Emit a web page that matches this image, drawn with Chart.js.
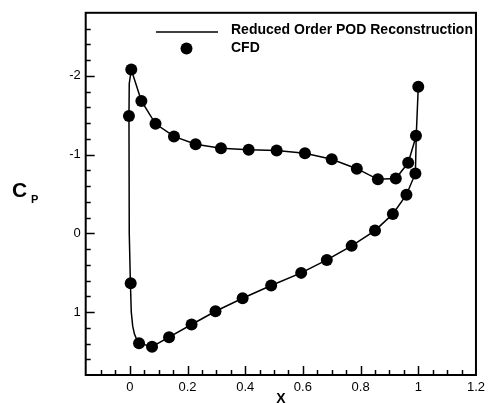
<!DOCTYPE html>
<html>
<head>
<meta charset="utf-8">
<script src="https://cdn.jsdelivr.net/npm/chart.js@4.4.0/dist/chart.umd.min.js"></script>
<style>
html,body{margin:0;padding:0;background:#fff;}
#wrap{width:490px;height:403px;}
</style>
</head>
<body>
<div id="wrap"><canvas id="c" width="490" height="403"></canvas></div>
<script>
// CFD points (upper surface then lower surface)
const cfdX = [0.005, 0.040, -0.003, 0.089, 0.153, 0.228, 0.316, 0.412, 0.509, 0.607, 0.700, 0.787, 0.860, 0.922, 0.965, 0.992, 1.000,
              0.990, 0.959, 0.912, 0.850, 0.769, 0.683, 0.594, 0.490, 0.391, 0.297, 0.214, 0.136, 0.077, 0.032, 0.003];
const cfdCp = [-2.08, -1.68, -1.49, -1.39, -1.23, -1.13, -1.08, -1.06, -1.05, -1.015, -0.94, -0.82, -0.685, -0.695, -0.895, -1.24, -1.86,
              -0.76, -0.49, -0.246, -0.034, 0.16, 0.338, 0.503, 0.664, 0.825, 0.99, 1.159, 1.32, 1.44, 1.396, 0.635];
// Reduced order POD reconstruction curve
const podX = [1.000, 0.993, 0.965, 0.922, 0.860, 0.787, 0.700, 0.607, 0.509, 0.412, 0.316, 0.228, 0.153, 0.089, 0.040, 0.005,
              -0.002, -0.003, -0.002, 0.002, 0.005, 0.010, 0.016, 0.024, 0.032, 0.077, 0.136, 0.214, 0.297, 0.391, 0.490, 0.594, 0.683,
              0.769, 0.850, 0.912, 0.959, 0.990, 0.993];
const podCp = [-1.86, -1.24, -0.895, -0.695, -0.685, -0.82, -0.94, -1.015, -1.05, -1.06, -1.08, -1.13, -1.23, -1.39, -1.68, -2.08,
              -1.90, -1.49, 0.0, 0.635, 1.0, 1.18, 1.28, 1.35, 1.396, 1.44, 1.32, 1.159, 0.99, 0.825, 0.664, 0.503, 0.338,
              0.16, -0.034, -0.246, -0.49, -0.76, -1.24];
const xTickLabels = ['0', '0.2', '0.4', '0.6', '0.8', '1', '1.2'];
const yTickLabels = ['-2', '-1', '0', '1'];
const legendLabels = ['Reduced Order POD Reconstruction', 'CFD'];

const X_MIN = -0.153, X_MAX = 1.2, Y_MIN = -2.8, Y_MAX = 1.8;
const FONT = '"Liberation Sans", Arial, Helvetica, sans-serif';

const pts = (xs, ys) => xs.map((x, i) => ({x: x, y: ys[i]}));
const near = (v, step) => Math.abs(v / step - Math.round(v / step)) < 1e-6;

const decor = {
  id: 'decor',
  afterDraw(chart) {
    const ctx = chart.ctx, a = chart.chartArea;
    const xs = chart.scales.x, ys = chart.scales.y;
    ctx.save();
    ctx.strokeStyle = '#000';
    // inward ticks on left axis
    ctx.lineWidth = 1.5;
    for (let k = -13; k <= 8; k++) {
      const v = k * 0.2;
      if (v <= Y_MIN + 1e-9 || v >= Y_MAX - 1e-9) continue;
      const p = Math.round(ys.getPixelForValue(v)) + 0.5;
      const len = near(v, 1) ? 9 : 5;
      ctx.beginPath(); ctx.moveTo(a.left, p); ctx.lineTo(a.left + len, p); ctx.stroke();
    }
    // inward ticks on bottom axis
    for (let k = -2; k <= 23; k++) {
      const v = k * 0.05;
      if (v <= X_MIN + 1e-9 || v >= X_MAX - 1e-9) continue;
      const p = Math.round(xs.getPixelForValue(v)) + 0.5;
      const len = near(v, 0.2) ? 9 : 5;
      ctx.beginPath(); ctx.moveTo(p, a.bottom); ctx.lineTo(p, a.bottom - len); ctx.stroke();
    }
    // frame
    ctx.lineWidth = 2;
    ctx.strokeRect(a.left, a.top, a.right - a.left, a.bottom - a.top);
    // legend
    ctx.lineWidth = 1.5;
    ctx.beginPath(); ctx.moveTo(156, 32); ctx.lineTo(218, 32); ctx.stroke();
    ctx.fillStyle = '#000';
    ctx.beginPath(); ctx.arc(186.5, 48.5, 6, 0, Math.PI * 2); ctx.fill();
    ctx.font = 'bold 14px ' + FONT;
    ctx.textBaseline = 'middle';
    ctx.textAlign = 'left';
    ctx.fillText(legendLabels[0], 231, 30.5);
    ctx.fillText(legendLabels[1], 231, 48.5);
    // axis titles
    ctx.textBaseline = 'alphabetic';
    ctx.font = 'bold 21px ' + FONT;
    ctx.fillText('C', 12, 197);
    ctx.font = 'bold 11px ' + FONT;
    ctx.fillText('P', 31, 203);
    ctx.font = 'bold 14px ' + FONT;
    ctx.textAlign = 'center';
    ctx.fillText('X', (a.left + a.right) / 2, 403);
    ctx.restore();
  }
};

new Chart(document.getElementById('c'), {
  type: 'scatter',
  data: {
    datasets: [
      {
        label: legendLabels[0],
        data: pts(podX, podCp),
        showLine: true,
        borderColor: '#000',
        borderWidth: 1.5,
        pointRadius: 0,
        pointHoverRadius: 0,
        tension: 0,
        fill: false,
        order: 2
      },
      {
        label: legendLabels[1],
        data: pts(cfdX, cfdCp),
        showLine: false,
        backgroundColor: '#000',
        borderColor: '#000',
        pointRadius: 6,
        pointBorderWidth: 0,
        order: 1
      }
    ]
  },
  options: {
    responsive: false,
    animation: false,
    events: [],
    layout: {padding: {top: 12.7, right: 8.3, left: 0, bottom: 0}},
    plugins: {legend: {display: false}, tooltip: {enabled: false}, title: {display: false}},
    scales: {
      x: {
        type: 'linear', min: X_MIN, max: X_MAX,
        grid: {display: false, drawTicks: false},
        border: {display: false},
        afterFit(s) { s.height = 28; },
        ticks: {
          stepSize: 0.2, autoSkip: false, includeBounds: false, maxRotation: 0, padding: 5,
          color: '#000', font: {family: FONT, size: 13},
          callback(v) {
            if (!near(v, 0.2)) return '';
            const i = Math.round(v / 0.2);
            return (i >= 0 && i < xTickLabels.length) ? xTickLabels[i] : '';
          }
        }
      },
      y: {
        type: 'linear', min: Y_MIN, max: Y_MAX, reverse: true,
        grid: {display: false, drawTicks: false},
        border: {display: false},
        afterFit(s) { s.width = 85.7; },
        ticks: {
          stepSize: 0.2, autoSkip: false, includeBounds: false, padding: 5,
          color: '#000', font: {family: FONT, size: 13},
          callback(v) {
            if (!near(v, 1)) return '';
            const i = Math.round(v) + 2;
            return (i >= 0 && i < yTickLabels.length) ? yTickLabels[i] : '';
          }
        }
      }
    }
  },
  plugins: [decor]
});
</script>
</body>
</html>
